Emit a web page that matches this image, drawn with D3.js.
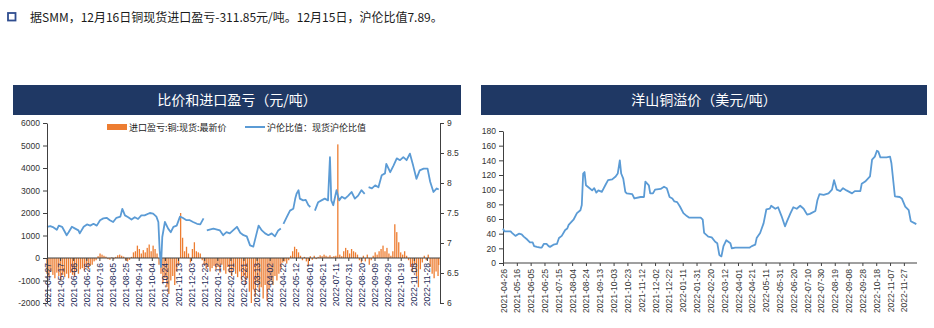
<!DOCTYPE html>
<html><head><meta charset="utf-8">
<script src="https://cdn.jsdelivr.net/npm/d3@7"></script>
<style>body{margin:0;background:#fff}svg{display:block}</style>
</head><body><svg id="c" width="934" height="328"></svg>
<script>
const headerText = "据SMM，12月16日铜现货进口盈亏-311.85元/吨。12月15日，沪伦比值7.89。";
const leftTitle = "比价和进口盈亏（元/吨）";
const rightTitle = "洋山铜溢价（美元/吨）";
const barLegend = "进口盈亏:铜:现货:最新价";
const lineLegend = "沪伦比值：现货沪伦比值";

const leftYTicks = [6000,5000,4000,3000,2000,1000,0,-1000,-2000];
const rightYTicksRatio = [9,8.5,8,7.5,7,6.5,6];
const premYTicks = [0,20,40,60,80,100,120,140,160,180];

const leftXTicks = ["2021-04-27","2021-05-17","2021-06-06","2021-06-26","2021-07-16","2021-08-05","2021-08-25","2021-09-14","2021-10-04","2021-10-24","2021-11-13","2021-12-03","2021-12-23","2022-01-12","2022-02-01","2022-02-21","2022-03-13","2022-04-02","2022-04-22","2022-05-12","2022-06-01","2022-06-21","2022-07-11","2022-07-31","2022-08-20","2022-09-09","2022-09-29","2022-10-19","2022-11-08","2022-11-28"];
const rightXTicks = ["2021-04-26","2021-05-16","2021-06-05","2021-06-25","2021-07-15","2021-08-04","2021-08-24","2021-09-13","2021-10-03","2021-10-23","2021-11-12","2021-12-02","2021-12-22","2022-01-11","2022-01-31","2022-02-20","2022-03-12","2022-04-01","2022-04-21","2022-05-11","2022-05-31","2022-06-20","2022-07-10","2022-07-30","2022-08-19","2022-09-08","2022-09-28","2022-10-18","2022-11-07","2022-11-27"];

// 进口盈亏 (元/吨)
const barDates = ["2021-04-27","2021-04-30","2021-05-03","2021-05-06","2021-05-09","2021-05-12","2021-05-15","2021-05-18","2021-05-21","2021-05-24","2021-05-27","2021-05-30","2021-06-02","2021-06-05","2021-06-08","2021-06-11","2021-06-14","2021-06-17","2021-06-20","2021-06-23","2021-06-26","2021-06-29","2021-07-02","2021-07-05","2021-07-08","2021-07-11","2021-07-14","2021-07-17","2021-07-20","2021-07-23","2021-07-26","2021-07-29","2021-08-01","2021-08-04","2021-08-07","2021-08-10","2021-08-13","2021-08-16","2021-08-19","2021-08-22","2021-08-25","2021-08-28","2021-08-31","2021-09-03","2021-09-06","2021-09-09","2021-09-12","2021-09-15","2021-09-18","2021-09-21","2021-09-24","2021-09-27","2021-09-30","2021-10-03","2021-10-06","2021-10-09","2021-10-12","2021-10-15","2021-10-18","2021-10-21","2021-10-24","2021-10-27","2021-10-30","2021-11-02","2021-11-05","2021-11-08","2021-11-11","2021-11-14","2021-11-17","2021-11-20","2021-11-23","2021-11-26","2021-11-29","2021-12-02","2021-12-05","2021-12-08","2021-12-11","2021-12-14","2021-12-17","2021-12-20","2021-12-23","2021-12-26","2021-12-29","2022-01-01","2022-01-04","2022-01-07","2022-01-10","2022-01-13","2022-01-16","2022-01-19","2022-01-22","2022-01-25","2022-01-28","2022-01-31","2022-02-03","2022-02-06","2022-02-09","2022-02-12","2022-02-15","2022-02-18","2022-02-21","2022-02-24","2022-02-27","2022-03-02","2022-03-05","2022-03-08","2022-03-11","2022-03-14","2022-03-17","2022-03-20","2022-03-23","2022-03-26","2022-03-29","2022-04-01","2022-04-04","2022-04-07","2022-04-10","2022-04-13","2022-04-16","2022-04-19","2022-04-22","2022-04-25","2022-04-28","2022-05-01","2022-05-04","2022-05-07","2022-05-10","2022-05-13","2022-05-16","2022-05-19","2022-05-22","2022-05-25","2022-05-28","2022-05-31","2022-06-03","2022-06-06","2022-06-09","2022-06-12","2022-06-15","2022-06-18","2022-06-21","2022-06-24","2022-06-27","2022-06-30","2022-07-03","2022-07-06","2022-07-09","2022-07-12","2022-07-15","2022-07-18","2022-07-21","2022-07-24","2022-07-27","2022-07-30","2022-08-02","2022-08-05","2022-08-08","2022-08-11","2022-08-14","2022-08-17","2022-08-20","2022-08-23","2022-08-26","2022-08-29","2022-09-01","2022-09-04","2022-09-07","2022-09-10","2022-09-13","2022-09-16","2022-09-19","2022-09-22","2022-09-25","2022-09-28","2022-10-01","2022-10-04","2022-10-07","2022-10-10","2022-10-13","2022-10-16","2022-10-19","2022-10-22","2022-10-25","2022-10-28","2022-10-31","2022-11-03","2022-11-06","2022-11-09","2022-11-12","2022-11-15","2022-11-18","2022-11-21","2022-11-24","2022-11-27","2022-11-30","2022-12-03","2022-12-06","2022-12-09","2022-12-12","2022-12-15","2022-12-16"];
const barValues = [-700,-850,-600,-750,-900,-650,-800,-1000,-750,-850,-700,-900,-650,-750,-800,-600,-700,-500,-450,-550,-400,-500,-350,-300,-150,-100,80,200,150,100,60,-50,-80,30,-60,50,120,150,100,60,-100,-150,-80,50,250,300,550,400,200,350,250,450,600,300,550,400,200,-300,-700,-1100,-900,-1300,-1600,-1000,-800,-1200,-600,-300,2000,900,300,500,200,-200,400,700,300,250,200,-100,-300,-500,-400,-600,-450,-350,-500,-400,-650,-300,-550,-700,-400,-650,-800,-500,-700,-850,-600,-1000,-800,-1200,-900,-1500,-2000,-1400,-1700,-1100,-1500,-1300,-1800,-1200,-1900,-1400,-1000,-1200,-800,-1000,-700,-500,-200,-150,-250,-100,100,300,500,400,250,100,-100,50,-150,-350,80,-80,100,-50,50,120,80,150,100,60,120,50,80,100,5050,150,80,300,450,350,200,400,300,250,150,-100,-200,100,-150,150,-300,-100,100,250,150,300,400,550,300,450,200,100,300,1500,1150,700,250,150,300,100,-100,-400,-600,-300,-800,-1300,-500,-200,100,-100,150,-400,-700,-900,-600,-800,-311.85];

// 沪伦比值 (null = gap)
const ratioDates = ["2021-04-27","2021-05-02","2021-05-07","2021-05-12","2021-05-15","2021-05-20","2021-05-25","2021-05-27","2021-05-30","2021-06-04","2021-06-09","2021-06-14","2021-06-16","2021-06-22","2021-06-27","2021-07-02","2021-07-07","2021-07-12","2021-07-17","2021-07-22","2021-07-27","2021-08-01","2021-08-06","2021-08-11","2021-08-17","2021-08-20","2021-08-24","2021-08-29","2021-09-03","2021-09-08","2021-09-13","2021-09-18","2021-09-23","2021-10-01","2021-10-06","2021-10-11","2021-10-14","2021-10-16","2021-10-18","2021-10-20","2021-10-24","2021-10-29","2021-11-02","2021-11-06","2021-11-11","2021-11-16","2021-11-20","2021-11-26","2021-12-01","2021-12-06","2021-12-12","2021-12-17","2021-12-22","2021-12-24","2021-12-27","2022-01-06","2022-01-16","2022-01-21","2022-01-26","2022-01-31","2022-02-05","2022-02-11","2022-02-16","2022-02-21","2022-02-26","2022-03-03","2022-03-08","2022-03-13","2022-03-16","2022-03-21","2022-03-26","2022-03-31","2022-04-05","2022-04-10","2022-04-15","2022-04-19","2022-04-21","2022-04-23","2022-04-28","2022-05-03","2022-05-08","2022-05-11","2022-05-13","2022-05-16","2022-05-18","2022-05-23","2022-05-27","2022-05-31","2022-06-03","2022-06-06","2022-06-10","2022-06-15","2022-06-20","2022-06-25","2022-06-30","2022-07-03","2022-07-05","2022-07-08","2022-07-13","2022-07-17","2022-07-21","2022-07-26","2022-07-31","2022-08-05","2022-08-10","2022-08-15","2022-08-20","2022-08-25","2022-08-28","2022-08-31","2022-09-05","2022-09-10","2022-09-15","2022-09-20","2022-09-25","2022-09-27","2022-10-03","2022-10-08","2022-10-13","2022-10-18","2022-10-23","2022-10-28","2022-11-02","2022-11-07","2022-11-12","2022-11-17","2022-11-23","2022-11-29","2022-12-03","2022-12-08","2022-12-13","2022-12-16"];
const ratioValues = [7.27,7.28,7.26,7.22,7.29,7.27,7.17,7.13,7.18,7.27,7.24,7.21,7.16,7.27,7.31,7.29,7.32,7.29,7.38,7.41,7.42,7.38,7.35,7.42,7.44,7.57,7.46,7.43,7.39,7.43,7.40,7.46,7.46,7.50,7.49,7.44,7.35,6.88,6.60,7.10,7.35,7.24,7.18,7.27,7.29,7.44,7.42,7.38,7.38,7.35,7.32,7.31,7.41,null,7.21,7.24,7.21,7.13,7.18,7.16,7.21,7.27,7.17,7.13,7.11,6.96,6.94,7.16,7.29,7.21,7.16,7.13,7.16,7.11,7.21,7.24,null,7.32,7.43,7.54,7.57,7.74,7.82,7.88,7.74,7.71,7.72,7.63,7.60,null,7.54,7.68,7.71,7.74,7.71,8.43,7.71,7.63,7.88,7.71,7.77,7.74,7.79,7.85,7.74,7.79,7.88,7.82,null,7.93,7.91,7.96,7.93,8.13,8.16,8.32,8.18,8.29,8.41,8.38,8.43,8.38,8.49,8.29,8.07,8.21,8.24,8.24,8.02,7.85,7.91,7.89];

// 洋山铜溢价 (美元/吨)
const premDates = ["2021-04-26","2021-04-28","2021-05-07","2021-05-09","2021-05-14","2021-05-19","2021-05-23","2021-05-26","2021-05-31","2021-06-04","2021-06-08","2021-06-10","2021-06-14","2021-06-19","2021-06-21","2021-06-24","2021-06-28","2021-07-01","2021-07-03","2021-07-08","2021-07-13","2021-07-16","2021-07-20","2021-07-25","2021-07-28","2021-07-30","2021-08-06","2021-08-11","2021-08-16","2021-08-18","2021-08-20","2021-08-22","2021-08-24","2021-08-28","2021-09-02","2021-09-05","2021-09-08","2021-09-11","2021-09-16","2021-09-21","2021-09-25","2021-10-01","2021-10-06","2021-10-09","2021-10-12","2021-10-14","2021-10-17","2021-10-20","2021-10-22","2021-10-30","2021-11-02","2021-11-11","2021-11-16","2021-11-18","2021-11-23","2021-11-25","2021-11-29","2021-12-02","2021-12-10","2021-12-15","2021-12-19","2021-12-23","2021-12-27","2021-12-30","2022-01-03","2022-01-07","2022-01-12","2022-01-17","2022-01-20","2022-02-06","2022-02-09","2022-02-11","2022-02-17","2022-02-22","2022-02-27","2022-03-02","2022-03-05","2022-03-08","2022-03-11","2022-03-15","2022-03-21","2022-03-23","2022-03-28","2022-04-18","2022-04-21","2022-04-26","2022-04-28","2022-05-03","2022-05-08","2022-05-12","2022-05-17","2022-05-19","2022-05-25","2022-05-29","2022-06-03","2022-06-08","2022-06-11","2022-06-16","2022-06-20","2022-06-25","2022-06-30","2022-07-05","2022-07-10","2022-07-14","2022-07-22","2022-07-25","2022-07-28","2022-08-03","2022-08-10","2022-08-15","2022-08-18","2022-08-22","2022-08-27","2022-08-31","2022-09-05","2022-09-13","2022-09-17","2022-09-25","2022-09-27","2022-10-02","2022-10-09","2022-10-12","2022-10-16","2022-10-19","2022-10-21","2022-10-24","2022-11-02","2022-11-07","2022-11-09","2022-11-14","2022-11-21","2022-11-24","2022-11-29","2022-12-04","2022-12-07","2022-12-13","2022-12-15"];
const premValues = [47,43,43,41,37,40,39,36,32,28,28,23,22,21,21,26,26,23,22,25,26,34,37,45,47,52,59,68,72,79,122,124,106,103,99,102,96,99,97,106,113,114,118,122,140,122,115,97,95,94,88,90,90,111,106,95,95,100,101,104,102,90,88,84,83,77,68,64,62,62,59,41,36,35,29,27,11,9,23,31,27,20,21,21,23,25,34,41,54,73,74,78,74,76,64,50,57,68,76,74,78,74,66,67,71,86,94,93,95,100,113,100,98,102,99,95,98,98,108,111,118,141,145,153,152,144,144,145,136,91,90,88,77,72,57,54,53];

const parse = d3.timeParse("%Y-%m-%d");
const fmt = d3.timeFormat("%Y-%m-%d");
const svg = d3.select("#c");
const FONT = "'Liberation Sans', Arial, 'Noto Sans CJK SC', sans-serif";
const CJK = "'Noto Sans CJK SC', 'Microsoft YaHei', sans-serif";
const NAVY = "#1f3864", ORANGE = "#ed7d31", BLUE = "#5b9bd5", AXIS = "#404040", TXT = "#333";

// header
svg.append("rect").attr("x", 8).attr("y", 13).attr("width", 7.5).attr("height", 7.5)
  .attr("fill", "none").attr("stroke", "#2f4d8f").attr("stroke-width", 1.8);
svg.append("text").attr("x", 30).attr("y", 22).attr("font-family", CJK).attr("font-size", 12)
  .attr("fill", "#1a1a1a").text(headerText);

// title bars
function titleBar(x0, x1, t) {
  svg.append("rect").attr("x", x0).attr("y", 85).attr("width", x1 - x0).attr("height", 30).attr("fill", NAVY);
  svg.append("text").attr("x", (x0 + x1) / 2).attr("y", 105).attr("text-anchor", "middle")
    .attr("font-family", CJK).attr("font-size", 14).attr("fill", "#fff").text(t);
}
titleBar(13, 461, leftTitle);
titleBar(481, 927, rightTitle);

// ---------- Left chart ----------
const xL = d3.scaleTime().domain([parse("2021-04-27"), parse("2022-12-16")]).range([47, 438.7]);
const yL = d3.scaleLinear().domain([-2000, 6000]).range([303, 123]);
const yR = d3.scaleLinear().domain([6, 9]).range([303, 123]);

const bars = barDates.map((d, i) => ({ d: parse(d), v: barValues[i] }));
const gL = svg.append("g");
gL.selectAll("rect.bar").data(bars).enter().append("rect").attr("class", "bar")
  .attr("x", d => xL(d.d) - 0.65).attr("width", 1.3)
  .attr("y", d => Math.min(yL(d.v), yL(0)))
  .attr("height", d => Math.abs(yL(d.v) - yL(0)))
  .attr("fill", ORANGE);

// x axis at 0
const axXL = gL.append("g").attr("transform", `translate(0,${yL(0)})`)
  .call(d3.axisBottom(xL).tickValues(leftXTicks.map(parse)).tickFormat(fmt).tickSize(3).tickSizeOuter(0));
axXL.select(".domain").attr("stroke", AXIS).attr("d", `M47,0H440`);
axXL.selectAll(".tick line").attr("stroke", AXIS);
axXL.selectAll("text").attr("font-family", FONT).attr("font-size", 8.6).attr("fill", "#1f2d5a")
  .attr("text-anchor", "end").attr("transform", "rotate(-90)").attr("x", -5).attr("y", 0).attr("dy", "0.35em");

// ratio line
const ratio = ratioDates.map((d, i) => ({ d: parse(d), v: ratioValues[i] }));
gL.append("path").datum(ratio).attr("fill", "none").attr("stroke", BLUE).attr("stroke-width", 1.8)
  .attr("stroke-linejoin", "round")
  .attr("d", d3.line().defined(d => d.v != null).x(d => xL(d.d)).y(d => yR(d.v)));

// y axes
const axYL = gL.append("g").attr("transform", "translate(47,0)")
  .call(d3.axisLeft(yL).tickValues(leftYTicks).tickFormat(d => String(d)).tickSize(4).tickSizeOuter(0));
axYL.select(".domain").attr("stroke", AXIS);
axYL.selectAll(".tick line").attr("stroke", AXIS);
axYL.selectAll("text").attr("font-family", FONT).attr("font-size", 8.5).attr("fill", TXT).attr("x", -7);

const axYR = gL.append("g").attr("transform", "translate(440,0)")
  .call(d3.axisRight(yR).tickValues(rightYTicksRatio).tickFormat(d => String(d)).tickSize(4).tickSizeOuter(0));
axYR.select(".domain").attr("stroke", AXIS);
axYR.selectAll(".tick line").attr("stroke", AXIS);
axYR.selectAll("text").attr("font-family", FONT).attr("font-size", 8.5).attr("fill", TXT).attr("x", 7);

// legend
svg.append("rect").attr("x", 107).attr("y", 124).attr("width", 20).attr("height", 6).attr("fill", ORANGE);
svg.append("text").attr("x", 129).attr("y", 130.5).attr("font-family", CJK).attr("font-size", 9).attr("fill", "#222").text(barLegend);
svg.append("line").attr("x1", 245).attr("x2", 265).attr("y1", 127).attr("y2", 127).attr("stroke", BLUE).attr("stroke-width", 2);
svg.append("text").attr("x", 267).attr("y", 130.5).attr("font-family", CJK).attr("font-size", 9).attr("fill", "#222").text(lineLegend);

// ---------- Right chart ----------
const xP = d3.scaleTime().domain([parse("2021-04-26"), parse("2022-12-16")]).range([503, 917]);
const yP = d3.scaleLinear().domain([0, 180]).range([263, 131]);
const gR = svg.append("g");

const axXR = gR.append("g").attr("transform", `translate(0,${yP(0)})`)
  .call(d3.axisBottom(xP).tickValues(rightXTicks.map(parse)).tickFormat(fmt).tickSize(3).tickSizeOuter(0));
axXR.select(".domain").attr("stroke", AXIS).attr("d", "M503,0H917");
axXR.selectAll(".tick line").attr("stroke", AXIS);
axXR.selectAll("text").attr("font-family", FONT).attr("font-size", 8.6).attr("fill", "#3a3a3a")
  .attr("text-anchor", "end").attr("transform", "rotate(-90)").attr("x", -6).attr("y", 0).attr("dy", "0.35em");

const axYP = gR.append("g").attr("transform", "translate(503,0)")
  .call(d3.axisLeft(yP).tickValues(premYTicks).tickFormat(d => String(d)).tickSize(4).tickSizeOuter(0));
axYP.select(".domain").attr("stroke", AXIS);
axYP.selectAll(".tick line").attr("stroke", AXIS);
axYP.selectAll("text").attr("font-family", FONT).attr("font-size", 8.5).attr("fill", TXT).attr("x", -7);

const prem = premDates.map((d, i) => ({ d: parse(d), v: premValues[i] }));
gR.append("path").datum(prem).attr("fill", "none").attr("stroke", BLUE).attr("stroke-width", 1.8)
  .attr("stroke-linejoin", "round")
  .attr("d", d3.line().x(d => xP(d.d)).y(d => yP(d.v)));
</script></body></html>
